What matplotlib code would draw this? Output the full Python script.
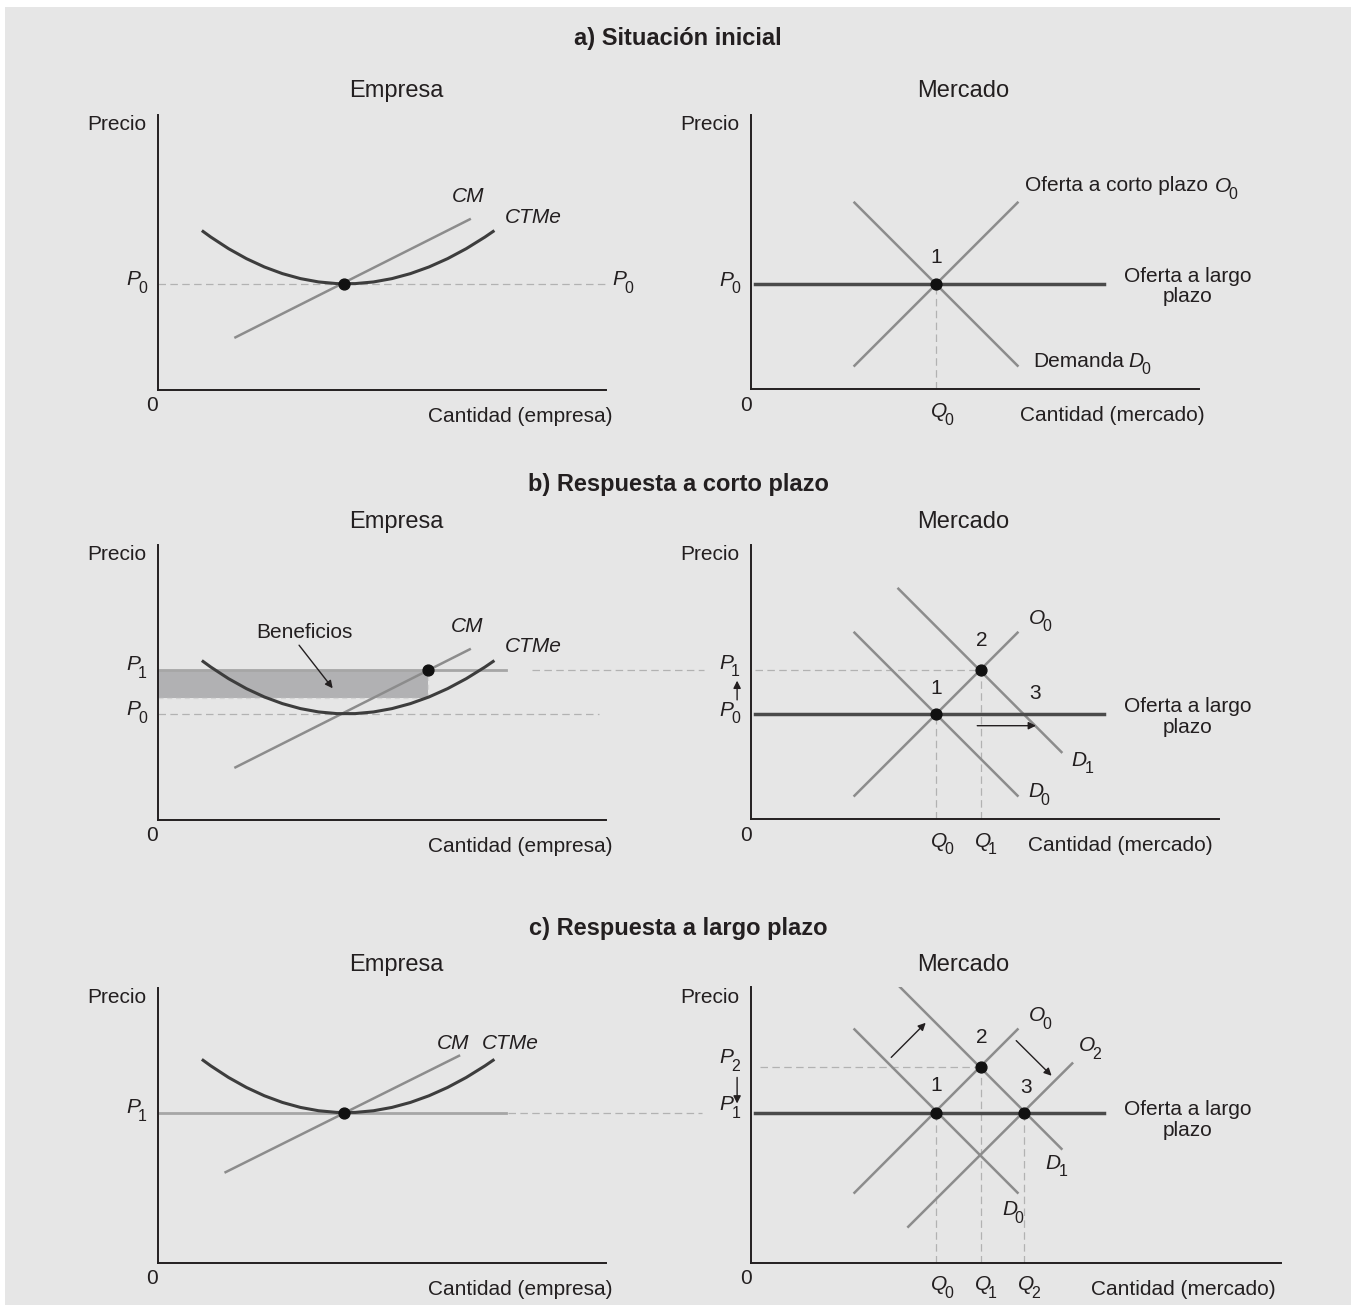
import numpy as np
import matplotlib.pyplot as plt
from matplotlib.path import Path
from matplotlib.patches import PathPatch, Rectangle

plt.rcParams['font.family'] = 'Liberation Sans'

# ---- data (abstract units: cantidad and precio, 0-10) ----
p0, p1, p2 = 3.85, 5.45, 7.12
q0, q1, q2 = 4.12, 5.13, 6.09

# empresa: CTMe = left end, minimum, right end ; CM = straight line
ctme_q = [0.99, 4.16, 7.52]
ctme_p = [5.79, 3.85, 5.79]
ctme_p_c = [7.40, 5.46, 7.40]
cm_q = [1.74, 6.97]
cm_p = [1.90, 6.20]
cm_q_c = [1.52, 6.73]
cm_p_c = [3.29, 7.53]
q_star = 6.03      # CM = P1
ctme_star = 4.42   # CTMe at q_star

# mercado
lr_q = [0.08, 7.89]
o0_q = [2.31, 5.95]
o0_p = [0.86, 6.80]
d0_q = [2.31, 5.95]
d0_p = [6.80, 0.86]
d1_q = [3.29, 6.93]
d1_p = [8.40, 2.45]
# c) curves after the shift
o0_p_c = [2.55, 8.50]
d0_p_c = [8.50, 2.55]
d1_p_c = [10.10, 4.15]
o2_q = [3.51, 7.17]
o2_p = [1.31, 7.26]

ink = '#231f20'
dark = '#3d3d3d'
mid = '#8c8c8c'
dash_c = '#b2b2b2'

W, H = 1356, 1311
fig = plt.figure(figsize=(W / 100, H / 100), dpi=100)
fig.patch.set_facecolor('white')
fig.patches.append(Rectangle((5 / W, 6 / H), 1346 / W, 1298 / H, transform=fig.transFigure,
                             facecolor='#e6e6e6', edgecolor='none', zorder=-10))


def panel(left, top, right, bottom):
    ax = fig.add_axes([left / W, 1 - bottom / H, (right - left) / W, (bottom - top) / H])
    ax.set_xlim(0, (right - left) / 44.8)
    ax.set_ylim(0, (bottom - top) / 27.45)
    ax.patch.set_visible(False)
    for s in ['top', 'right']:
        ax.spines[s].set_visible(False)
    for s in ['left', 'bottom']:
        ax.spines[s].set_linewidth(1.4)
        ax.spines[s].set_color(ink)
    ax.set_xticks([])
    ax.set_yticks([])
    return ax


def txt(ax, x, y, s, ha='center', va='center', size=15, **kw):
    ax.text(x, y, s, ha=ha, va=va, fontsize=size, color=ink, clip_on=False, **kw)


def sym(ax, x, y, letter, sub):
    # italic letter centred at (x, y), upright subscript below right
    ax.text(x, y, letter, ha='center', va='center', fontsize=15, style='italic',
            color=ink, clip_on=False)
    ax.annotate(sub, (x, y), xytext=(7.0, -6.2), textcoords='offset points',
                ha='center', va='center', fontsize=11.5, color=ink, annotation_clip=False)


def dashed(ax, xs, ys):
    ax.plot(xs, ys, color=dash_c, lw=0.9, dashes=(6, 3.5), clip_on=False, zorder=1)


def dot(ax, x, y):
    ax.plot([x], [y], 'o', color='#111111', ms=7.8, zorder=6, clip_on=False)


def ctme(ax, q, p):
    ctrl = 2 * p[1] - (p[0] + p[2]) / 2
    verts = [(q[0], p[0]), (q[1], ctrl), (q[2], p[2])]
    path = Path(verts, [Path.MOVETO, Path.CURVE3, Path.CURVE3])
    ax.add_patch(PathPatch(path, facecolor='none', edgecolor=dark, lw=2.2, zorder=4))


def arrow(ax, x0, y0, x1, y1):
    ax.annotate('', xy=(x1, y1), xytext=(x0, y0), annotation_clip=False,
                arrowprops=dict(arrowstyle='-|>', color=ink, lw=1.0, mutation_scale=11,
                                shrinkA=0, shrinkB=0))


def axis_labels(ax, which, xr):
    txt(ax, -0.25, 9.65, 'Precio', ha='right')
    txt(ax, -0.12, -0.58, '0')
    txt(ax, xr, -0.97, 'Cantidad (%s)' % which, ha='right')


def headers(y_title, y_sub, title):
    fig.text(678 / W, 1 - y_title / H, title, ha='center', va='center', fontsize=17,
             fontweight='bold', color=ink)
    fig.text(396 / W, 1 - y_sub / H, 'Empresa', ha='center', va='center', fontsize=17, color=ink)
    fig.text(963 / W, 1 - y_sub / H, 'Mercado', ha='center', va='center', fontsize=17, color=ink)


# ================= a) Situación inicial =================
headers(39, 91, 'a) Situación inicial')

ax = panel(157.5, 115, 606, 389.5)
axis_labels(ax, 'empresa', 10.15)
dashed(ax, [0, 10.08], [p0, p0])
ctme(ax, ctme_q, ctme_p)
ax.plot(cm_q, cm_p, color=mid, lw=1.8, zorder=3)
dot(ax, ctme_q[1], p0)
sym(ax, -0.55, p0 + 0.14, 'P', '0')
sym(ax, 10.31, p0 + 0.14, 'P', '0')
txt(ax, 6.93, 7.02, 'CM', style='italic')
txt(ax, 8.38, 6.27, 'CTMe', style='italic')

ax = panel(751, 115, 1199, 389.3)
axis_labels(ax, 'mercado', 10.13)
dashed(ax, [q0, q0], [0, p0])
ax.plot(lr_q, [p0, p0], color='#4a4a4a', lw=2.5, zorder=3)
ax.plot(o0_q, o0_p, color=mid, lw=1.8, zorder=2)
ax.plot(d0_q, d0_p, color=mid, lw=1.8, zorder=2)
dot(ax, q0, p0)
sym(ax, -0.55, p0 + 0.13, 'P', '0')
sym(ax, q0 + 0.07, -0.82, 'Q', '0')
txt(ax, 4.13, 4.8, '1')
txt(ax, 6.12, 7.42, 'Oferta a corto plazo', ha='left')
sym(ax, 10.53, 7.40, 'O', '0')
txt(ax, 9.75, 3.74, 'Oferta a largo\nplazo', linespacing=1.1)
txt(ax, 6.29, 1.02, 'Demanda', ha='left')
sym(ax, 8.60, 1.02, 'D', '0')

# ================= b) Respuesta a corto plazo =================
headers(485, 522, 'b) Respuesta a corto plazo')

ax = panel(157.5, 545, 606, 819.5)
axis_labels(ax, 'empresa', 10.15)
ax.add_patch(Rectangle((0, ctme_star), q_star, p1 - ctme_star, facecolor='#b1b1b3',
                       edgecolor='none', zorder=1))
ax.plot([0, q_star], [ctme_star, ctme_star], color='#d4d4d4', lw=0.9, dashes=(4, 3), zorder=2)
ax.plot([q_star, q_star], [ctme_star, p1], color='#d4d4d4', lw=0.9, dashes=(4, 3), zorder=2)
ax.plot([0, 7.78], [p1, p1], color='#a6a6a6', lw=2.0, zorder=2)
dashed(ax, [8.35, 12.2], [p1, p1])
dashed(ax, [0, 9.85], [p0, p0])
ctme(ax, ctme_q, ctme_p)
ax.plot(cm_q, cm_p, color=mid, lw=1.8, zorder=3)
dot(ax, q_star, p1)
sym(ax, -0.55, p1 + 0.2, 'P', '1')
sym(ax, -0.55, p0 + 0.14, 'P', '0')
txt(ax, 3.28, 6.80, 'Beneficios')
arrow(ax, 3.16, 6.35, 3.91, 4.78)
txt(ax, 6.92, 7.02, 'CM', style='italic')
txt(ax, 8.38, 6.30, 'CTMe', style='italic')

ax = panel(751, 545, 1219, 819.3)
axis_labels(ax, 'mercado', 10.31)
dashed(ax, [q0, q0], [0, p0])
dashed(ax, [q1, q1], [0, p1])
dashed(ax, [0.1, q1], [p1, p1])
ax.plot(lr_q, [p0, p0], color='#4a4a4a', lw=2.5, zorder=3)
ax.plot(o0_q, o0_p, color=mid, lw=1.8, zorder=2)
ax.plot(d0_q, d0_p, color=mid, lw=1.8, zorder=2)
ax.plot(d1_q, d1_p, color=mid, lw=1.8, zorder=2)
dot(ax, q0, p0)
dot(ax, q1, p1)
arrow(ax, 5.05, 3.41, 6.36, 3.41)
arrow(ax, -0.31, 4.35, -0.31, 5.05)
sym(ax, -0.56, 5.69, 'P', '1')
sym(ax, -0.56, 3.98, 'P', '0')
sym(ax, q0 + 0.07, -0.8, 'Q', '0')
sym(ax, q1 + 0.04, -0.8, 'Q', '1')
txt(ax, 4.14, 4.78, '1')
txt(ax, 5.15, 6.53, '2')
txt(ax, 6.35, 4.60, '3')
sym(ax, 6.38, 7.33, 'O', '0')
sym(ax, 7.33, 2.16, 'D', '1')
sym(ax, 6.35, 1.0, 'D', '0')
txt(ax, 9.75, 3.73, 'Oferta a largo\nplazo', linespacing=1.1)

# ================= c) Respuesta a largo plazo =================
headers(928, 965, 'c) Respuesta a largo plazo')

ax = panel(157.5, 988, 606, 1262.5)
axis_labels(ax, 'empresa', 10.15)
ax.plot([0, 7.78], [p1, p1], color='#a6a6a6', lw=2.0, zorder=2)
dashed(ax, [7.82, 12.15], [p1, p1])
ctme(ax, ctme_q, ctme_p_c)
ax.plot(cm_q_c, cm_p_c, color=mid, lw=1.8, zorder=3)
dot(ax, ctme_q[1], p1)
sym(ax, -0.55, p1 + 0.2, 'P', '1')
txt(ax, 6.60, 7.99, 'CM', style='italic')
txt(ax, 7.88, 7.99, 'CTMe', style='italic')

ax = panel(751, 987, 1281, 1262.7)
axis_labels(ax, 'mercado', 11.70)
dashed(ax, [q0, q0], [0, p1])
dashed(ax, [q1, q1], [0, p2])
dashed(ax, [q2, q2], [0, p1])
dashed(ax, [0.2, q1], [p2, p2])
ax.plot(lr_q, [p1, p1], color='#4a4a4a', lw=2.5, zorder=3)
ax.plot(o0_q, o0_p_c, color=mid, lw=1.8, zorder=2)
ax.plot(d0_q, d0_p_c, color=mid, lw=1.8, zorder=2)
ax.plot(d1_q, d1_p_c, color=mid, lw=1.8, zorder=2)
ax.plot(o2_q, o2_p, color=mid, lw=1.8, zorder=2)
dot(ax, q0, p1)
dot(ax, q1, p2)
dot(ax, q2, p1)
arrow(ax, 3.13, 7.48, 3.90, 8.74)
arrow(ax, 5.92, 8.09, 6.71, 6.81)
arrow(ax, -0.31, 6.75, -0.31, 5.80)
sym(ax, -0.55, 7.46, 'P', '2')
sym(ax, -0.55, 5.75, 'P', '1')
sym(ax, q0 + 0.07, -0.8, 'Q', '0')
sym(ax, q1 + 0.04, -0.8, 'Q', '1')
sym(ax, q2 + 0.05, -0.8, 'Q', '2')
txt(ax, 4.14, 6.47, '1')
txt(ax, 5.15, 8.21, '2')
txt(ax, 6.14, 6.39, '3')
sym(ax, 6.38, 9.0, 'O', '0')
sym(ax, 7.49, 7.90, 'O', '2')
sym(ax, 6.75, 3.63, 'D', '1')
sym(ax, 5.77, 1.92, 'D', '0')
txt(ax, 9.75, 5.20, 'Oferta a largo\nplazo', linespacing=1.1)

fig.savefig('out.png', dpi=100, facecolor=fig.get_facecolor())
